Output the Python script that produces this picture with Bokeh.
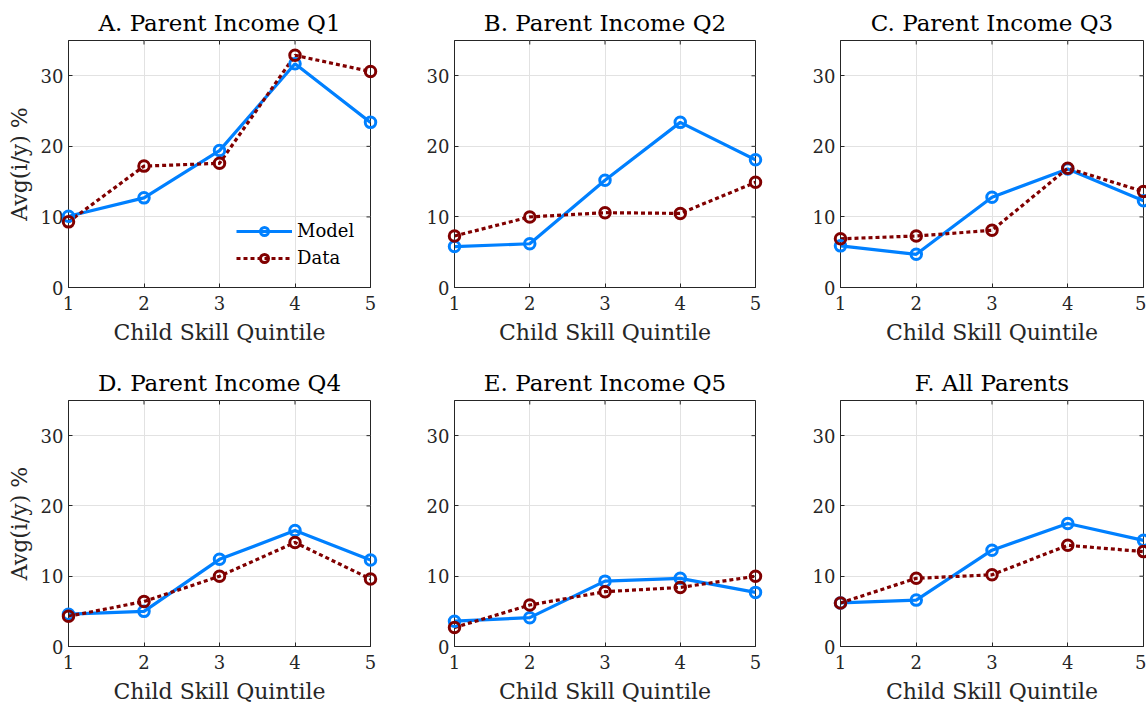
import math
from bokeh.plotting import figure
from bokeh.layouts import column, row
from bokeh.models import FixedTicker, Range1d
from bokeh.embed import file_html
from bokeh.resources import INLINE

# ---- data ----
skill = [1, 2, 3, 4, 5]
titles = ["A. Parent Income Q1", "B. Parent Income Q2", "C. Parent Income Q3",
          "D. Parent Income Q4", "E. Parent Income Q5", "F. All Parents"]
model_q1 = [10.1, 12.7, 19.4, 31.7, 23.4]
data_q1 = [9.3, 17.2, 17.6, 32.9, 30.6]
model_q2 = [5.8, 6.2, 15.2, 23.4, 18.1]
data_q2 = [7.3, 10.0, 10.6, 10.5, 14.9]
model_q3 = [5.9, 4.7, 12.8, 16.8, 12.3]
data_q3 = [6.9, 7.3, 8.1, 16.9, 13.6]
model_q4 = [4.6, 5.0, 12.4, 16.5, 12.3]
data_q4 = [4.3, 6.4, 10.0, 14.8, 9.6]
model_q5 = [3.6, 4.1, 9.3, 9.7, 7.7]
data_q5 = [2.7, 5.9, 7.8, 8.4, 10.0]
model_all = [6.2, 6.6, 13.7, 17.5, 15.1]
data_all = [6.2, 9.7, 10.2, 14.4, 13.5]
y_ticks = [0, 10, 20, 30]
y_min, y_max = 0, 35
x_label = "Child Skill Quintile"
y_label = "Avg(i/y) %"

FONT = "DejaVu Serif"
BLUE = "#0080ff"
RED = "#800000"
DARK = "#262626"
GRID = "#e2e2e2"

widths = [386, 386, 374]
right_borders = [16, 17, 3]
heights = [360, 346]
bottom_borders = [73, 59]


def style_axis(ax):
    ax.major_tick_in = 4
    ax.major_tick_out = 0
    ax.minor_tick_in = 0
    ax.minor_tick_out = 0
    ax.axis_line_color = DARK
    ax.major_tick_line_color = DARK
    ax.major_label_text_font = FONT
    ax.major_label_text_color = DARK
    ax.major_label_text_font_size = "18px"


def panel(idx, model, data, legend=False):
    c = idx % 3
    r = idx // 3
    p = figure(width=widths[c], height=heights[r], output_backend="svg",
               toolbar_location=None,
               x_range=Range1d(skill[0], skill[-1]), y_range=Range1d(y_min, y_max),
               min_border_left=68, min_border_right=right_borders[c],
               min_border_top=40, min_border_bottom=bottom_borders[r])
    p.title.text = titles[idx]
    p.title.text_font = FONT
    p.title.text_font_size = "23px"
    p.title.text_font_style = "normal"
    p.title.text_color = "#000000"
    p.title.align = "center"
    p.title.standoff = 9
    p.background_fill_color = "white"
    p.border_fill_color = "white"
    p.outline_line_color = DARK
    p.outline_line_alpha = 1.0
    p.outline_line_width = 1

    xt = FixedTicker(ticks=skill)
    yt = FixedTicker(ticks=y_ticks)
    p.xaxis.ticker = xt
    p.yaxis.ticker = yt
    p.xgrid.ticker = xt
    p.ygrid.ticker = yt
    p.xgrid.grid_line_color = GRID
    p.ygrid.grid_line_color = GRID

    style_axis(p.xaxis[0])
    style_axis(p.yaxis[0])
    p.xaxis.major_label_standoff = 8
    p.yaxis.major_label_standoff = 5
    p.xaxis.axis_label = x_label
    p.xaxis.axis_label_text_font = FONT
    p.xaxis.axis_label_text_font_size = "22px"
    p.xaxis.axis_label_text_font_style = "normal"
    p.xaxis.axis_label_text_color = DARK
    p.xaxis.axis_label_standoff = 7
    if c == 0:
        p.yaxis.axis_label = y_label
        p.yaxis.axis_label_text_font = FONT
        p.yaxis.axis_label_text_font_size = "22px"
        p.yaxis.axis_label_text_font_style = "normal"
        p.yaxis.axis_label_text_color = DARK
        p.yaxis.axis_label_standoff = 6

    # inward ticks on the right and top edges of the box (clipped to the frame)
    p.scatter([skill[-1]] * len(y_ticks), y_ticks, marker="dash", size=8,
              line_color=DARK, line_width=1)
    p.scatter(skill, [y_max] * len(skill), marker="dash", size=8, angle=math.pi / 2,
              line_color=DARK, line_width=1)

    kw_m = dict(legend_label="Model") if legend else {}
    kw_d = dict(legend_label="Data") if legend else {}
    p.line(skill, model, line_color=BLUE, line_width=3.2, **kw_m)
    p.scatter(skill, model, marker="circle", size=10.5, fill_color=None,
              line_color=BLUE, line_width=3, level="overlay", **kw_m)
    p.line(skill, data, line_color=RED, line_width=3.2, line_dash="4 3", **kw_d)
    p.scatter(skill, data, marker="circle", size=10.5, fill_color=None,
              line_color=RED, line_width=3, level="overlay", **kw_d)

    if legend:
        lg = p.legend[0]
        lg.location = (168, 19)
        lg.border_line_color = None
        lg.background_fill_alpha = 0
        lg.padding = 0
        lg.margin = 0
        lg.spacing = 6
        lg.glyph_width = 56
        lg.glyph_height = 20
        lg.label_height = 20
        lg.label_standoff = 5
        lg.label_text_font = FONT
        lg.label_text_font_size = "18px"
        lg.label_text_color = "#000000"
    return p


series = [(model_q1, data_q1), (model_q2, data_q2), (model_q3, data_q3),
          (model_q4, data_q4), (model_q5, data_q5), (model_all, data_all)]
plots = [panel(i, m, d, legend=(i == 0)) for i, (m, d) in enumerate(series)]

layout = column(row(*plots[:3], spacing=0), row(*plots[3:], spacing=0), spacing=0)

open("out.html", "w").write(file_html(layout, INLINE))
